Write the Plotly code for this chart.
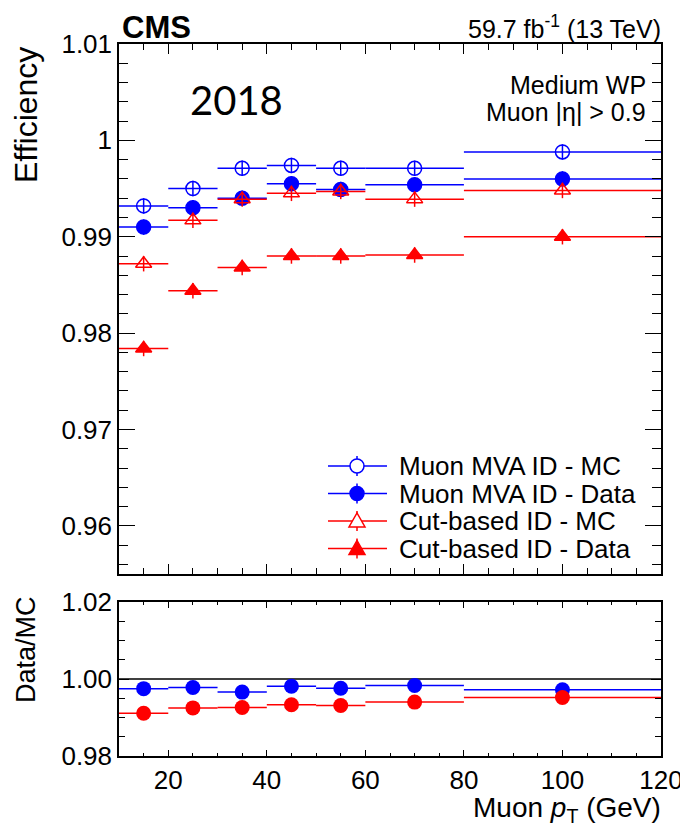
import plotly.graph_objects as go

# ---- data ----
pt_center = [15, 25, 35, 45, 55, 70, 100]
pt_halfwidth = [5, 5, 5, 5, 5, 10, 20]

mva_mc = [0.9932, 0.9950, 0.9971, 0.9974, 0.9971, 0.9971, 0.9988]
mva_data = [0.9910, 0.9930, 0.9940, 0.9955, 0.9949, 0.9954, 0.9960]
cut_mc = [0.9872, 0.9917, 0.9939, 0.9945, 0.9947, 0.9939, 0.9948]
cut_data = [0.9784, 0.9844, 0.9868, 0.9880, 0.9880, 0.9881, 0.9900]
eff_err = [0.0008, 0.0008, 0.0008, 0.0008, 0.0008, 0.0008, 0.0008]

ratio_mva = [0.9975, 0.9978, 0.9966, 0.9981, 0.9976, 0.9983, 0.9972]
ratio_cut = [0.9911, 0.9925, 0.9926, 0.9933, 0.9931, 0.9940, 0.9952]

upper_ticks = [0.96, 0.97, 0.98, 0.99, 1.00, 1.01]
upper_ticktext = ["0.96", "0.97", "0.98", "0.99", "1", "1.01"]
lower_ticks = [0.98, 1.00, 1.02]
lower_ticktext = ["0.98", "1.00", "1.02"]

legend_names = ["Muon MVA ID - MC", "Muon MVA ID - Data", "Cut-based ID - MC", "Cut-based ID - Data"]

BLUE = "#0000ff"
RED = "#ff0000"
FONT = "Liberation Sans, Arial, sans-serif"

# page body has an 8px margin, so the figure is drawn 8px in from the window corner
OFF = 8
W, H = 680, 820
def px_x(p):
    return (p - OFF) / W
def px_y(p):
    return 1 - (p - OFF) / H

fig = go.Figure()

series = [
    (legend_names[0], mva_mc, BLUE, "circle-open"),
    (legend_names[1], mva_data, BLUE, "circle"),
    (legend_names[2], cut_mc, RED, "triangle-up-open"),
    (legend_names[3], cut_data, RED, "triangle-up"),
]

for name, vals, col, sym in series:
    fig.add_trace(go.Scatter(
        x=pt_center, y=vals, mode="markers", xaxis="x", yaxis="y", name=name,
        marker=dict(symbol=sym, size=14, color=col, line=dict(color=col, width=1.5)),
        error_x=dict(type="data", array=pt_halfwidth, color=col, thickness=1.5, width=0),
        error_y=dict(type="data", array=eff_err, color=col, thickness=1.5, width=0),
        showlegend=False, hoverinfo="skip"))

for vals, col in [(ratio_mva, BLUE), (ratio_cut, RED)]:
    fig.add_trace(go.Scatter(
        x=pt_center, y=vals, mode="markers", xaxis="x2", yaxis="y2",
        marker=dict(symbol="circle", size=15, color=col),
        error_x=dict(type="data", array=pt_halfwidth, color=col, thickness=1.5, width=0),
        showlegend=False, hoverinfo="skip"))

xdom = [px_x(119), px_x(661)]
common_x = dict(range=[10, 120], domain=xdom, showline=True, linecolor="black", linewidth=1.5,
                mirror="ticks", ticks="inside", tick0=0, dtick=20, showgrid=False, zeroline=False,
                tickcolor="black", tickwidth=1.2, automargin=False)

fig.update_layout(
    template="none",
    width=W, height=H, margin=dict(l=0, r=0, t=0, b=0, pad=0, autoexpand=False),
    paper_bgcolor="white", plot_bgcolor="white",
    font=dict(family=FONT, color="black"),
    showlegend=False,
    xaxis=dict(**common_x, anchor="y", showticklabels=False, ticklen=10,
               minor=dict(dtick=5, tick0=0, ticks="inside", ticklen=6, tickcolor="black")),
    yaxis=dict(range=[0.955, 1.01], domain=[px_y(574), px_y(44)], anchor="x",
               tickvals=upper_ticks, ticktext=upper_ticktext, ticks="inside", ticklen=16,
               tickcolor="black", tickwidth=1.2, automargin=False,
               minor=dict(dtick=0.002, tick0=0.96, ticks="inside", ticklen=9, tickcolor="black"),
               showline=True, linecolor="black", linewidth=1.5, mirror="ticks",
               showgrid=False, zeroline=False, tickfont=dict(size=26, family=FONT)),
    xaxis2=dict(**common_x, anchor="y2", ticklen=6, tickfont=dict(size=26, family=FONT),
                minor=dict(dtick=5, tick0=0, ticks="inside", ticklen=3, tickcolor="black")),
    yaxis2=dict(range=[0.98, 1.02], domain=[px_y(756), px_y(602)], anchor="x2",
                tickvals=lower_ticks, ticktext=lower_ticktext, ticks="inside", ticklen=10,
                tickcolor="black", tickwidth=1.2, automargin=False,
                minor=dict(dtick=0.005, tick0=0.98, ticks="inside", ticklen=6, tickcolor="black"),
                showline=True, linecolor="black", linewidth=1.5, mirror="ticks",
                showgrid=False, zeroline=False, tickfont=dict(size=26, family=FONT)),
)

fig.add_shape(type="line", xref="x2 domain", x0=0, x1=1, yref="y2", y0=1.0, y1=1.0,
              line=dict(color="black", width=1.5), layer="below")

# ---- legend (drawn as keys + text) ----
leg_top, leg_step = 466, 27.5
key_x0, key_x1, key_c, text_x = 328, 387, 357, 397
for i, (name, vals, col, sym) in enumerate(series):
    yc = px_y(leg_top + i * leg_step)
    fig.add_shape(type="line", xref="paper", yref="paper", x0=px_x(key_x0), x1=px_x(key_x1),
                  y0=yc, y1=yc, line=dict(color=col, width=1.5))
    fig.add_shape(type="line", xref="paper", yref="paper", xsizemode="pixel", ysizemode="pixel",
                  xanchor=px_x(key_c), yanchor=yc, x0=0, x1=0, y0=-10, y1=10,
                  line=dict(color=col, width=1.5))
    fill = col if not sym.endswith("open") else "white"
    if sym.startswith("circle"):
        fig.add_shape(type="circle", xref="paper", yref="paper", xsizemode="pixel", ysizemode="pixel",
                      xanchor=px_x(key_c), yanchor=yc, x0=-7, x1=7, y0=-7, y1=7,
                      fillcolor=fill, line=dict(color=col, width=1.5))
    else:
        fig.add_shape(type="path", xref="paper", yref="paper", xsizemode="pixel", ysizemode="pixel",
                      xanchor=px_x(key_c), yanchor=yc, path="M -8,-6 L 8,-6 L 0,8 Z",
                      fillcolor=fill, line=dict(color=col, width=1.5))
    fig.add_annotation(text=name, x=px_x(text_x), y=yc, xref="paper", yref="paper",
                       xanchor="left", yanchor="middle", showarrow=False,
                       font=dict(size=26, family=FONT, color="black"))

ann = [
    dict(text="<b>CMS</b>", x=px_x(120), y=px_y(27), xanchor="left", yanchor="middle", size=31),
    dict(text="59.7 fb<sup>-1</sup> (13 TeV)", x=px_x(663), y=px_y(27), xanchor="right", yanchor="middle", size=25),
    dict(text="Medium WP", x=px_x(648), y=px_y(85), xanchor="right", yanchor="middle", size=25),
    dict(text="Muon |η| > 0.9", x=px_x(648), y=px_y(112), xanchor="right", yanchor="middle", size=25),
    dict(text="Muon <i>p</i><sub>T</sub> (GeV)", x=px_x(663), y=px_y(809), xanchor="right", yanchor="middle", size=28),
]
for a in ann:
    fig.add_annotation(text=a["text"], x=a["x"], y=a["y"], xref="paper", yref="paper",
                       xanchor=a["xanchor"], yanchor=a["yanchor"], showarrow=False,
                       font=dict(size=a["size"], family=FONT, color="black"))

fig.add_annotation(text="2018", x=px_x(188), y=px_y(100), xref="paper", yref="paper",
                   xanchor="left", yanchor="middle", showarrow=False,
                   font=dict(size=40, family="Lato, Open Sans, sans-serif", color="black"))
fig.add_annotation(text="Efficiency", x=px_x(26), y=px_y(115), xref="paper", yref="paper",
                   xanchor="center", yanchor="middle", textangle=-90, showarrow=False,
                   font=dict(size=32, family=FONT, color="black"))
fig.add_annotation(text="Data/MC", x=px_x(26), y=px_y(650), xref="paper", yref="paper",
                   xanchor="center", yanchor="middle", textangle=-90, showarrow=False,
                   font=dict(size=27, family=FONT, color="black"))

fig.write_html("out.html")
